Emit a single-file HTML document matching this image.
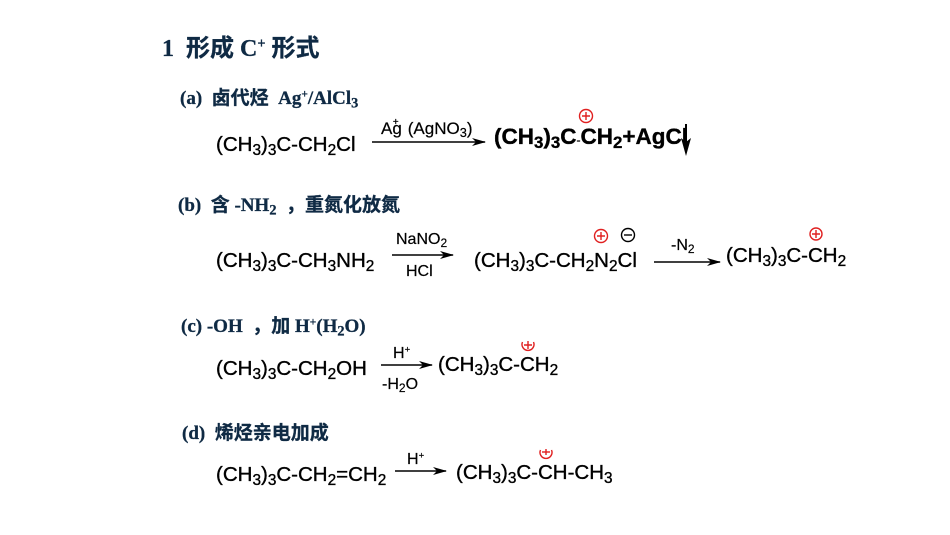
<!DOCTYPE html>
<html><head><meta charset="utf-8"><style>
body{margin:0;width:950px;height:535px;background:#fff;position:relative;overflow:hidden}
.h{position:absolute;font-family:"Liberation Serif","Noto Sans CJK SC",serif;font-weight:bold;color:#0f2a44;line-height:1;white-space:nowrap;-webkit-text-stroke:0.3px #0f2a44}
.f{position:absolute;font-family:"Liberation Sans",sans-serif;color:#000;font-size:20.5px;line-height:1;white-space:nowrap;-webkit-text-stroke:0.35px #000}
.l{position:absolute;font-family:"Liberation Sans",sans-serif;color:#000;font-size:16px;line-height:1;white-space:nowrap;-webkit-text-stroke:0.2px #000}
sub{font-size:0.75em;vertical-align:-0.25em;line-height:0}
sup{font-size:0.6em;vertical-align:0.55em;line-height:0}
svg{position:absolute;left:0;top:0}
</style></head><body>
<div class="h" style="left:162px;top:37px;font-size:24px">1&nbsp;&nbsp;形成 C<sup>+</sup> 形式</div>
<div class="h" style="left:180px;top:89px;font-size:19px">(a)&nbsp; 卤代烃&nbsp; Ag<sup>+</sup>/AlCl<sub>3</sub></div>
<div class="f" style="left:216px;top:135px">(CH<sub>3</sub>)<sub>3</sub>C-CH<sub>2</sub>Cl</div>
<div class="l" style="left:381px;top:120px;font-size:17px">Ag<sup style="position:relative;left:-9px;top:-3px">+</sup>(AgNO<sub>3</sub>)</div>
<div class="f" style="left:494px;top:126px;font-size:22.5px;font-weight:bold">(CH<sub>3</sub>)<sub>3</sub>C<span style="font-size:12px;font-weight:normal">-</span>CH<sub>2</sub>+AgCl</div>

<div class="h" style="left:178px;top:196px;font-size:19px">(b)&nbsp; 含 -NH<sub>2</sub>&nbsp; ，重氮化放氮</div>
<div class="f" style="left:216px;top:251px">(CH<sub>3</sub>)<sub>3</sub>C-CH<sub>3</sub>NH<sub>2</sub></div>
<div class="l" style="left:396px;top:232px">NaNO<sub>2</sub></div>
<div class="l" style="left:406px;top:264px">HCl</div>
<div class="f" style="left:474px;top:251px">(CH<sub>3</sub>)<sub>3</sub>C-CH<sub>2</sub>N<sub>2</sub>Cl</div>
<div class="l" style="left:671px;top:238px">-N<sub>2</sub></div>
<div class="f" style="left:726px;top:246px">(CH<sub>3</sub>)<sub>3</sub>C-CH<sub>2</sub></div>

<div class="h" style="left:181px;top:317px;font-size:19px">(c) -OH&nbsp; ，加 H<sup>+</sup>(H<sub>2</sub>O)</div>
<div class="f" style="left:216px;top:359px">(CH<sub>3</sub>)<sub>3</sub>C-CH<sub>2</sub>OH</div>
<div class="l" style="left:393px;top:346px">H<sup>+</sup></div>
<div class="l" style="left:382px;top:377px">-H<sub>2</sub>O</div>
<div class="f" style="left:438px;top:355px">(CH<sub>3</sub>)<sub>3</sub>C-CH<sub>2</sub></div>

<div class="h" style="left:182px;top:424px;font-size:19px">(d)&nbsp; 烯烃亲电加成</div>
<div class="f" style="left:216px;top:465px">(CH<sub>3</sub>)<sub>3</sub>C-CH<sub>2</sub>=CH<sub>2</sub></div>
<div class="l" style="left:407px;top:452px">H<sup>+</sup></div>
<div class="f" style="left:456px;top:463px">(CH<sub>3</sub>)<sub>3</sub>C-CH-CH<sub>3</sub></div>

<svg width="950" height="535">
<defs><marker id="a" markerWidth="14" markerHeight="8" refX="13" refY="4" orient="auto" markerUnits="userSpaceOnUse"><path d="M0,0 L14,4 L0,8 L4,4 Z" fill="#000"/></marker></defs>
<g stroke="#000" stroke-width="1.6" fill="none">
<line x1="372" y1="142" x2="485" y2="142" marker-end="url(#a)"/>
<line x1="392" y1="255" x2="453" y2="255" marker-end="url(#a)"/>
<line x1="654" y1="262" x2="720" y2="262" marker-end="url(#a)"/>
<line x1="381" y1="365" x2="432" y2="365" marker-end="url(#a)"/>
<line x1="395" y1="471" x2="446" y2="471" marker-end="url(#a)"/>
<line x1="686" y1="124" x2="686" y2="150" stroke-width="2"/>
</g>
<path d="M681,138 L686,156 L691,138 L686,142 Z" fill="#000"/>
<g stroke="#e02020" stroke-width="1.4" fill="none">
<circle cx="586" cy="116" r="6.5"/><path d="M582,116h8M586,112v8"/>
<circle cx="601" cy="236" r="6.5"/><path d="M597,236h8M601,232v8"/>
<circle cx="816" cy="234" r="6"/><path d="M812,234h8M816,230v8"/>
<path d="M522.5,342 A6,6 0 1 0 533.5,342"/><path d="M524,345h8M528,341v8"/>
<path d="M540.5,450 A6,6 0 1 0 551.5,450"/><path d="M542,452h8"/><path d="M546,449v6"/>
</g>
<g stroke="#000" stroke-width="1.4" fill="none">
<circle cx="628" cy="235" r="6.5"/><path d="M624,235h8"/>
</g>
</svg>
</body></html>
